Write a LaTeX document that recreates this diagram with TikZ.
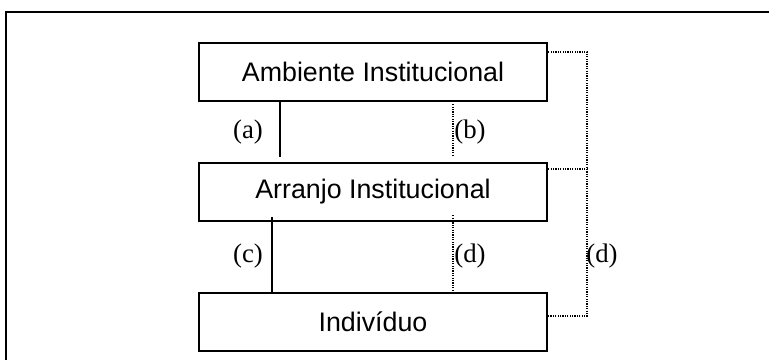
\documentclass[tikz,border=0pt]{standalone}
\usepackage{fontspec}
\setmainfont{Liberation Serif}
\setsansfont{Liberation Sans}
\tikzset{level box/.style={draw, line width=1.2pt, minimum width=174pt, minimum height=29pt,
   inner sep=0pt, font=\sffamily\fontsize{13.4}{16}\selectfont},
 link/.style={line width=1pt},
 weak link/.style={line width=0.75pt, dash pattern=on 0.6pt off 0.6pt},
 tag/.style={inner sep=0pt, font=\fontsize{13.4}{16}\selectfont},
 }

\begin{document}
\begin{tikzpicture}[x=0.5pt, y=-0.5pt]
        \useasboundingbox (0,0) rectangle (769,360);
        \draw[line width=1.2pt] (6,360) -- (6,12) -- (769,12);
        % the three levels
        \node[level box] (amb) at (373,72) {Ambiente Institucional};
        \node[level box] (arr) at (373,192) {Arranjo Institucional};
        \node[level box] (ind) at (373,322) {Indivíduo};
        \coordinate (xa) at (280,0);
        \coordinate (xc) at (272,0);
        \coordinate (xb) at (453,0);
        \coordinate (xr) at (587,0);
        % links between levels
        \draw[link, shorten >=2.5pt] (amb.south -| xa) -- (arr.north -| xa);
        \draw[weak link, shorten <=1pt, shorten >=2.5pt] (amb.south -| xb) -- (arr.north -| xb);
        \draw[link, shorten <=-2.5pt] (arr.south -| xc) -- (ind.north -| xc);
        \draw[weak link, shorten <=-3.5pt] (arr.south -| xb) -- (ind.north -| xb);
        \draw[weak link] (amb.north east) ++(0,10) coordinate (r1) -- (r1 -| xr)
          |- (ind.north east |- 0,316);
        \draw[weak link] (arr.north east) ++(0,7) coordinate (r2) -- (r2 -| xr);
        \node[tag] (a) at (248,132) {(a)};
        \node[tag] (b) at (470,132) {(b)};
        \node[tag] (c) at (248,256) {(c)};
        \node[tag] (d) at (470,256) {(d)};
        \node[tag] (d2) at (602,256) {(d)};
    \end{tikzpicture}
\end{document}
